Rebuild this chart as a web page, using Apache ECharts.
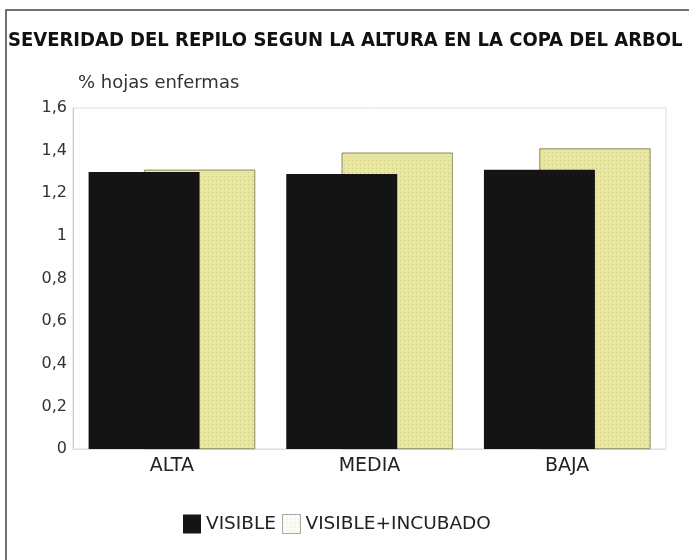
<!DOCTYPE html>
<html><head><meta charset="utf-8">
<script src="https://cdn.jsdelivr.net/npm/echarts@6/dist/echarts.min.js"></script>
<style>html,body{margin:0;padding:0;background:#fff}#c{width:689px;height:560px}</style>
</head><body><div id="c"></div>
<script>
const categories = ['ALTA', 'MEDIA', 'BAJA'];
const visible = [1.3, 1.29, 1.31];
const visibleIncubado = [1.31, 1.39, 1.41];
const yTicks = ['0', '0,2', '0,4', '0,6', '0,8', '1', '1,2', '1,4', '1,6'];

const chart = echarts.init(document.getElementById('c'));
chart.setOption({
  backgroundColor: '#fff',
  animation: false,
  title: {
    text: 'SEVERIDAD DEL REPILO SEGUN LA ALTURA EN LA COPA DEL ARBOL',
    left: 8, top: 31, padding: 0,
    textStyle: { fontFamily: 'DejaVu Sans Condensed', fontWeight: 'bold', fontSize: 20, color: '#111' }
  },
  graphic: [
    { type: 'polyline', shape: { points: [[6, 560], [6, 10], [689, 10]] }, style: { fill: 'none', stroke: '#444', lineWidth: 1.5 } },
    { type: 'rect', shape: { x: 73, y: 108, width: 593, height: 341 }, style: { fill: 'none', stroke: '#ddd', lineWidth: 1 } }
  ],
  legend: {
    top: 509, left: 178,
    itemWidth: 18, itemHeight: 19, itemGap: 6,
    textStyle: { fontFamily: 'DejaVu Sans', fontSize: 18.5, color: '#222' },
    data: [
      { name: 'VISIBLE', icon: 'rect', itemStyle: { color: '#141414' } },
      { name: 'VISIBLE+INCUBADO', icon: 'rect', itemStyle: { color: '#fcfcf4', borderColor: '#aaa', borderWidth: 1 } }
    ]
  },
  grid: { left: 73, right: 23, top: 108, bottom: 111 },
  xAxis: {
    type: 'category', data: categories,
    axisLine: { show: true, lineStyle: { color: '#ddd' } },
    axisTick: { show: false },
    axisLabel: { fontFamily: 'DejaVu Sans', fontSize: 19, color: '#222', margin: 8 }
  },
  yAxis: {
    type: 'value', min: 0, max: 1.6, interval: 0.2,
    name: '% hojas enfermas',
    nameLocation: 'end', nameGap: 16,
    nameTextStyle: { fontFamily: 'DejaVu Sans', fontSize: 18, color: '#333', align: 'left', padding: [0, 0, 0, 5] },
    axisLine: { show: true, lineStyle: { color: '#ccc' } },
    axisTick: { show: false },
    splitLine: { show: false },
    axisLabel: {
      fontFamily: 'DejaVu Sans', fontSize: 16, color: '#333', margin: 6,
      formatter: v => yTicks[Math.round(v / 0.2)]
    }
  },
  series: [
    { name: 'VISIBLE', type: 'bar', data: visible, barWidth: 111, barGap: '-50%', z: 3,
      itemStyle: { color: '#141414' } },
    { name: 'VISIBLE+INCUBADO', type: 'bar', data: visibleIncubado, barWidth: 111, z: 2,
      itemStyle: { color: '#e9e6a0', borderColor: '#8a8a60', borderWidth: 0.6,
        decal: { symbol: 'rect', symbolSize: 1, dashArrayX: [[1, 3]], dashArrayY: [1, 3], color: 'rgba(150,150,90,0.35)' } } }
  ]
});
</script></body></html>
